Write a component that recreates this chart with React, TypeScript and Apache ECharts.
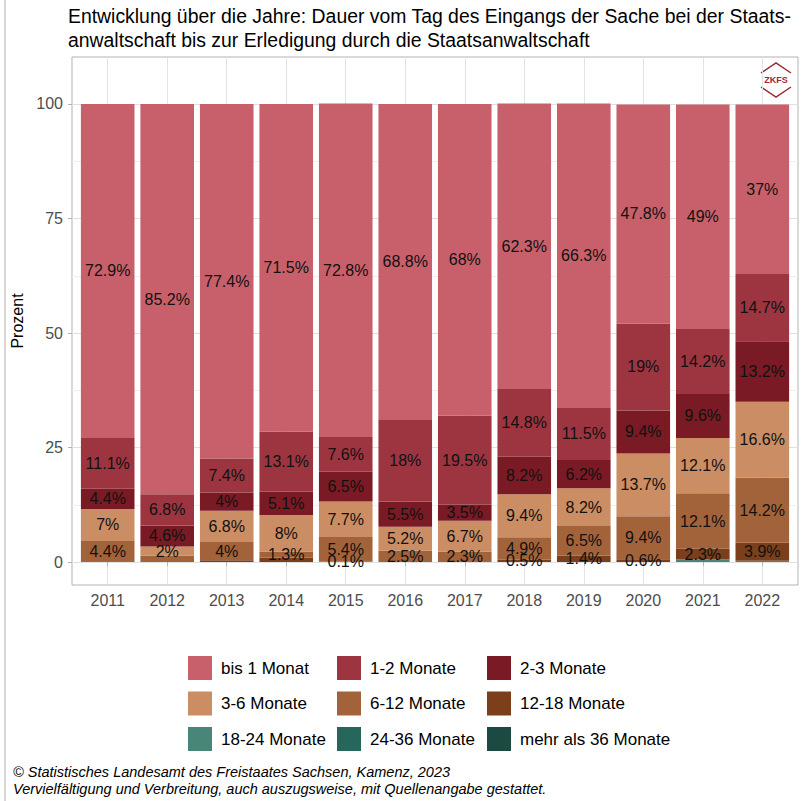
import React, { useEffect, useRef } from "react";
import * as echarts from "echarts";

const years = ["2011", "2012", "2013", "2014", "2015", "2016", "2017", "2018", "2019", "2020", "2021", "2022"];
const bis1 = [72.9, 85.2, 77.4, 71.5, 72.8, 68.8, 68, 62.3, 66.3, 47.8, 49, 37];
const m1_2 = [11.1, 6.8, 7.4, 13.1, 7.6, 18, 19.5, 14.8, 11.5, 19, 14.2, 14.7];
const m2_3 = [4.4, 4.6, 4, 5.1, 6.5, 5.5, 3.5, 8.2, 6.2, 9.4, 9.6, 13.2];
const m3_6 = [7, 2, 6.8, 8, 7.7, 5.2, 6.7, 9.4, 8.2, 13.7, 12.1, 16.6];
const m6_12 = [4.4, 1.4, 4, 1.3, 5.4, 2.5, 2.3, 4.9, 6.5, 9.4, 12.1, 14.2];
const m12_18 = [0.2, 0, 0.4, 1.0, 0.1, 0, 0, 0.5, 1.4, 0.6, 2.3, 3.9];
const m18_24 = [0, 0, 0, 0, 0, 0, 0, 0, 0, 0, 0.6, 0.3];
const m24_36 = [0, 0, 0, 0, 0, 0, 0, 0, 0, 0, 0, 0];
const m36plus = [0, 0, 0, 0, 0, 0, 0, 0, 0, 0, 0, 0];

// segments whose value label is not printed in the original
const unlabeled: [string, string][] = [
  ["12-18 Monate", "2011"],
  ["6-12 Monate", "2012"],
  ["12-18 Monate", "2013"],
  ["12-18 Monate", "2014"],
  ["18-24 Monate", "2021"],
  ["18-24 Monate", "2022"],
];

const yTicks = [0, 25, 50, 75, 100];
const yGrid = [0, 12.5, 25, 37.5, 50, 62.5, 75, 87.5, 100];

// bottom to top
const seriesDefs = [
  { name: "mehr als 36 Monate", data: m36plus, color: "#1B4A42" },
  { name: "24-36 Monate", data: m24_36, color: "#27665A" },
  { name: "18-24 Monate", data: m18_24, color: "#478679" },
  { name: "12-18 Monate", data: m12_18, color: "#7B3F1B" },
  { name: "6-12 Monate", data: m6_12, color: "#A3633A" },
  { name: "3-6 Monate", data: m3_6, color: "#CB8D63" },
  { name: "2-3 Monate", data: m2_3, color: "#7A1A24" },
  { name: "1-2 Monate", data: m1_2, color: "#9C3540" },
  { name: "bis 1 Monat", data: bis1, color: "#C8606B" },
];

const legendCols = [
  ["bis 1 Monat", "3-6 Monate", "18-24 Monate"],
  ["1-2 Monate", "6-12 Monate", "24-36 Monate"],
  ["2-3 Monate", "12-18 Monate", "mehr als 36 Monate"],
];
const legendLeft = [188, 337, 487];

const FONT = "'Liberation Sans', Arial, sans-serif";

export default function App() {
  const ref = useRef<HTMLDivElement>(null);
  useEffect(() => {
    if (!ref.current) return;
    const chart = echarts.init(ref.current, null, { renderer: "svg" });
    const xs = years.map((_, i) => i + 1);
    const option: any = {
      animation: false,
      backgroundColor: "#ffffff",
      textStyle: { fontFamily: FONT },
      title: [
        {
          text:
            "Entwicklung über die Jahre: Dauer vom Tag des Eingangs der Sache bei der Staats-\nanwaltschaft bis zur Erledigung durch die Staatsanwaltschaft",
          left: 68,
          top: 4,
          padding: 0,
          textStyle: { fontSize: 19.4, fontWeight: "normal", color: "#000", fontFamily: FONT, lineHeight: 24 },
        },
        {
          text:
            "© Statistisches Landesamt des Freistaates Sachsen, Kamenz, 2023\nVervielfältigung und Verbreitung, auch auszugsweise, mit Quellenangabe gestattet.",
          left: 13,
          top: 763,
          padding: 0,
          textStyle: {
            fontSize: 14.5,
            fontStyle: "italic",
            fontWeight: "normal",
            color: "#000",
            fontFamily: FONT,
            lineHeight: 17,
          },
        },
      ],
      grid: {
        left: 72,
        top: 57,
        width: 726,
        height: 528,
        show: true,
        borderColor: "#B3B3B3",
        borderWidth: 1,
        backgroundColor: "transparent",
      },
      xAxis: {
        type: "value",
        min: 0.4,
        max: 12.6,
        axisLine: { show: false },
        axisTick: { show: true, customValues: xs, length: 4, lineStyle: { color: "#B3B3B3" } },
        axisLabel: {
          customValues: xs,
          formatter: (v: number) => years[Math.round(v) - 1],
          fontSize: 16,
          color: "#4D4D4D",
          margin: 7,
          fontFamily: FONT,
        },
        splitLine: { show: true, lineStyle: { color: "#E3E3E3", width: 1 } },
      },
      yAxis: [
        {
          type: "value",
          min: -5,
          max: 110.25,
          axisLine: { show: false },
          axisTick: { show: false, customValues: yGrid },
          axisLabel: { show: false, customValues: yGrid },
          splitLine: { show: true, lineStyle: { color: ["#E0E0E0", "#EFEFEF"], width: 1 } },
        },
        {
          type: "value",
          min: -5,
          max: 110.25,
          position: "left",
          axisLine: { show: false },
          axisTick: { show: true, customValues: yTicks, length: 4, lineStyle: { color: "#B3B3B3" } },
          axisLabel: { customValues: yTicks, fontSize: 16, color: "#4D4D4D", margin: 9, fontFamily: FONT },
          splitLine: { show: false },
          name: "Prozent",
          nameLocation: "middle",
          nameRotate: 90,
          nameGap: 41,
          nameTextStyle: { fontSize: 16, color: "#000", fontFamily: FONT },
        },
      ],
      legend: legendCols.map((col, i) => ({
        data: col,
        orient: "vertical",
        left: legendLeft[i],
        top: 656,
        padding: 0,
        itemWidth: 24,
        itemHeight: 24,
        itemGap: 11.5,
        icon: "rect",
        selectedMode: false,
        textStyle: { fontSize: 17, color: "#000", fontFamily: FONT, padding: [0, 0, 0, 4] },
      })),
      series: seriesDefs.map((s) => ({
        name: s.name,
        type: "bar",
        stack: "total",
        xAxisIndex: 0,
        yAxisIndex: 0,
        barWidth: 53.6,
        dimensions: [
          { name: "share", type: "float" },
          { name: "pos", type: "float" },
        ],
        encode: { y: 0, x: 1 },
        itemStyle: { color: s.color },
        emphasis: { disabled: true },
        label: {
          show: true,
          position: "inside",
          fontSize: 16,
          color: "#111",
          fontFamily: FONT,
          formatter: (p: any) => {
            const v = p.value[0];
            const idx = Math.round(p.value[1]) - 1;
            if (!v) return "";
            if (unlabeled.some(([n, y]) => n === s.name && y === years[idx])) return "";
            return v + "%";
          },
        },
        data: s.data.map((v, i) => [v, i + 1]),
      })),
      graphic: [
        {
          type: "polyline",
          shape: { points: [[761, 73], [776, 63], [791, 73]] },
          style: { stroke: "#9B2A37", lineWidth: 1.5, fill: null },
        },
        {
          type: "polyline",
          shape: { points: [[761, 87], [776, 97], [791, 87]] },
          style: { stroke: "#9B2A37", lineWidth: 1.5, fill: null },
        },
        {
          type: "text",
          x: 776,
          y: 80,
          style: {
            text: "ZKFS",
            fill: "#9B2A37",
            font: "bold 9px " + FONT,
            align: "center",
            verticalAlign: "middle",
          },
        },
        {
          type: "line",
          shape: { x1: 5, y1: 0, x2: 5, y2: 801 },
          style: { stroke: "#B0B0B0", lineWidth: 1 },
        },
      ],
    };
    chart.setOption(option);
    return () => chart.dispose();
  }, []);
  return (
    <div
      ref={ref}
      style={{ position: "fixed", left: 0, top: 0, width: 802, height: 801, background: "#fff" }}
    />
  );
}
